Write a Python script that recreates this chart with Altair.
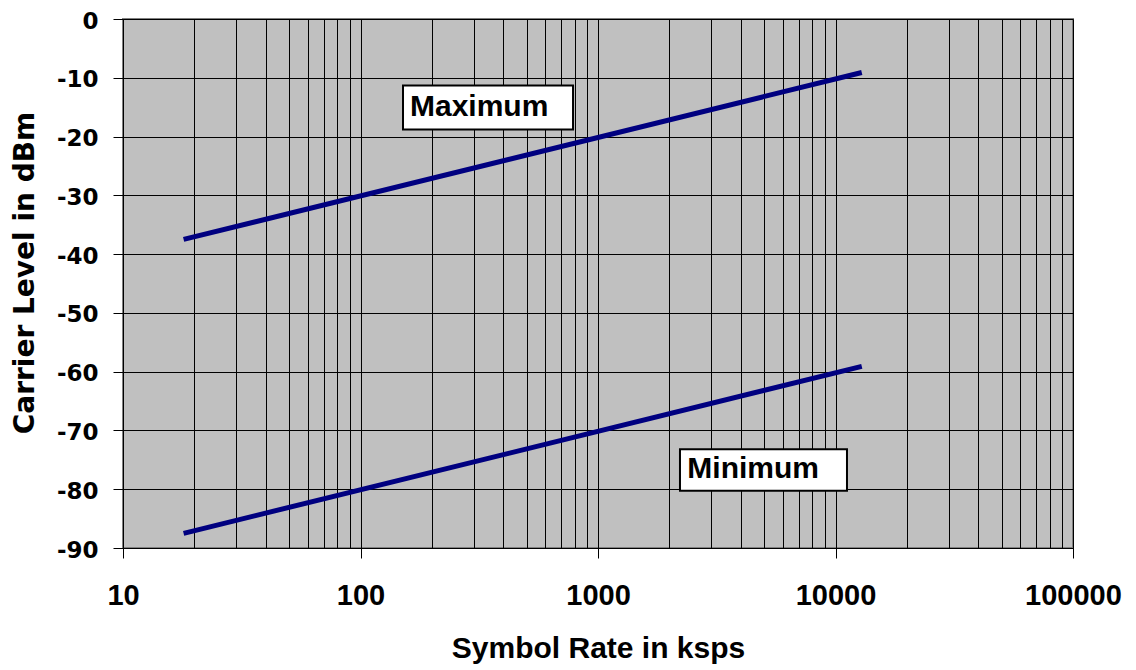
import altair as alt
import pandas as pd

# ---- data ----
series_names = ["Maximum", "Minimum"]
symbol_rate = [18, 12900]          # ksps, start and end of both lines
max_level = [-37.5, -9.1]          # dBm
min_level = [-87.5, -59.1]         # dBm

x_decades = [10, 100, 1000, 10000, 100000]
x_grid = [m * 10 ** e for e in range(1, 5) for m in range(1, 10)] + [100000]
y_ticks = list(range(-90, 1, 10))

# annotation boxes, in data units
label_text = ["Maximum", "Minimum"]
box_x = [151, 2214]
box_x2 = [785, 11178]
box_y = [-11.3, -73.2]
box_y2 = [-18.8, -80.25]
text_x = [161.6, 2377]
text_y = [-15.0, -76.55]

lines = pd.DataFrame({
    "x": symbol_rate * 2,
    "y": max_level + min_level,
    "series": [series_names[0]] * 2 + [series_names[1]] * 2,
})
boxes = pd.DataFrame({"x": box_x, "x2": box_x2, "y": box_y, "y2": box_y2})
texts = pd.DataFrame({"x": text_x, "y": text_y, "label": label_text})

AR = "Liberation Sans"
DJ = "DejaVu Sans"
xscale = alt.Scale(type="log", domain=[10, 100000], nice=False)
yscale = alt.Scale(domain=[-90, 0], nice=False, zero=False)

decade_test = "indexof([10,100,1000,10000,100000], datum.value) >= 0"

x_axis = alt.Axis(
    values=x_grid,
    grid=True, gridColor="black", gridWidth=1,
    tickSize=10, tickColor="black",
    tickOpacity={"condition": {"test": decade_test, "value": 1}, "value": 0},
    labelExpr=f"{decade_test} ? format(datum.value, 'd') : ''",
    labelFont=AR, labelFontWeight="bold", labelFontSize=29, labelColor="black",
    labelBaseline="alphabetic", labelPadding=46,
    labelFlush=False, labelOverlap=False, labelBound=False,
    domainColor="black", domainWidth=1,
    title="Symbol Rate in ksps", titleFont=AR, titleFontWeight="bold",
    titleFontSize=30, titleColor="black", titleBaseline="alphabetic", titleY=109,
)
y_axis = alt.Axis(
    values=y_ticks,
    grid=True, gridColor="black", gridWidth=1,
    tickSize=10, tickColor="black",
    labelExpr="datum.value < 0 ? '-' + abs(datum.value) : '' + datum.value",
    labelFont=DJ, labelFontWeight="bold", labelFontSize=23,
    labelColor="black", labelPadding=15, labelOffset=2,
    domainColor="black", domainWidth=1,
    title="Carrier Level in dBm", titleFont=DJ, titleFontWeight="bold",
    titleFontSize=28, titleColor="black", titleBaseline="alphabetic",
    titleX=-90, titleY=253.5,
)

X = alt.X("x:Q", scale=xscale, axis=x_axis)
Y = alt.Y("y:Q", scale=yscale, axis=y_axis)

line_layer = alt.Chart(lines).mark_line(strokeWidth=5, color="#000080").encode(
    x=X, y=Y, detail="series:N",
)

box_layer = alt.Chart(boxes).mark_rect(fill="white", stroke="black", strokeWidth=2).encode(
    x=X, x2="x2:Q", y=Y, y2="y2:Q",
)

text_layer = alt.Chart(texts).mark_text(
    align="left", baseline="middle", font=AR, fontWeight="bold", fontSize=30, color="black"
).encode(
    x=X, y=Y, text="label:N",
)

chart = alt.layer(line_layer, box_layer, text_layer).properties(
    width=950, height=529,
    autosize=alt.AutoSizeParams(type="none"),
    padding={"left": 115, "top": 11, "right": 55, "bottom": 116},
    background="white",
).configure_view(fill="#C0C0C0", stroke="#808080", strokeWidth=2)

chart.save("out.html", embed_options={"renderer": "svg", "actions": False})
